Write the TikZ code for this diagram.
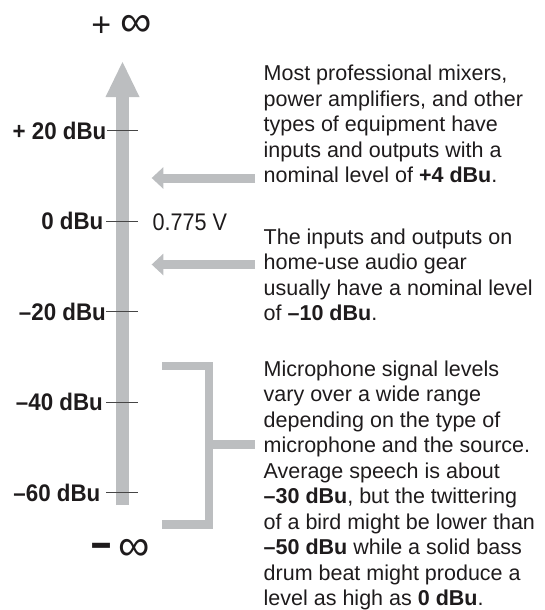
\documentclass[tikz,border=0pt]{standalone}
\usepackage{fontspec}
\usepackage{graphicx}
\usetikzlibrary{arrows.meta}
\setmainfont{Liberation Sans}
\newfontfamily\condfont[FakeStretch=0.93]{Liberation Sans}
\newfontfamily\voltfont[FakeStretch=0.9]{Liberation Sans}
\definecolor{bargray}{RGB}{188,190,192}
\definecolor{tickgray}{RGB}{70,70,70}
\definecolor{txt}{RGB}{30,27,28}
\newcommand\notefont{\fontsize{21.5}{25.5}\selectfont}
\begin{document}
\begin{tikzpicture}[x=1pt,y=-1pt,
  bar/.style={draw=bargray, line width=8.5pt},
  harrow/.style={draw=bargray, line width=9pt, -{Triangle[length=11.6pt,width=21.6pt,line width=0pt]}},
  tickline/.style={draw=tickgray, line width=1pt},
  lvl/.style={anchor=east, inner sep=0pt, text=txt, font=\condfont\bfseries\fontsize{24}{24}\selectfont},
  note/.style={anchor=base west, inner sep=0pt, text=txt},
  inf/.style={inner sep=0pt, text=txt},
]
\useasboundingbox (0,0) rectangle (544,610);

% main axis arrow
\coordinate (axbot) at (122.5,505);
\coordinate (axtop) at (122.5,62);
\draw[draw=bargray, line width=13pt, -{Triangle[length=35pt,width=34pt,line width=0pt]}] (axbot) -- (axtop);

% infinity labels
\node[inf, anchor=base] (pinf) at (121.5,37) {{\fontsize{34}{34}\selectfont +}\hspace{9pt}{\fontsize{44}{44}\selectfont ∞}};
\node[inf, anchor=base] (minf) at (120.5,560) {\raisebox{1pt}{\scalebox{1.2}[1.7]{\fontsize{30}{30}\selectfont\bfseries –}}\hspace{7pt}{\fontsize{44}{44}\selectfont ∞}};

% ticks and level labels
\coordinate (t20a) at (107,130.7);  \coordinate (t20b) at (138,130.7);
\coordinate (t0a)  at (106,221);    \coordinate (t0b)  at (138,221);
\coordinate (tm20a) at (106,311.7); \coordinate (tm20b) at (138,311.7);
\coordinate (tm40a) at (106,402);   \coordinate (tm40b) at (138,402);
\coordinate (tm60a) at (106,492.7); \coordinate (tm60b) at (138,492.7);
\draw[tickline] (t20a) -- (t20b);
\draw[tickline] (t0a) -- (t0b);
\draw[tickline] (tm20a) -- (tm20b);
\draw[tickline] (tm40a) -- (tm40b);
\draw[tickline] (tm60a) -- (tm60b);

\node[lvl] (l20) at (106.5,130.7) {+ 20 dBu};
\node[lvl] (l0) at (103.5,221) {0 dBu};
\node[lvl] (lm20) at (106,311.7) {–20 dBu};
\node[lvl] (lm40) at (103,402) {–40 dBu};
\node[lvl] (lm60) at (100.5,492.7) {–60 dBu};

\node[anchor=base west, inner sep=0pt, text=txt, font=\voltfont\fontsize{24}{24}\selectfont] (volt) at (152.5,230) {0.775 V};

% horizontal arrows
\coordinate (a1s) at (255,178);   \coordinate (a1e) at (151.7,178);
\coordinate (a2s) at (255,264.5); \coordinate (a2e) at (151.7,264.5);
\draw[harrow] (a1s) -- (a1e);
\draw[harrow] (a2s) -- (a2e);

% bracket
\coordinate (bt) at (162,366);
\coordinate (btr) at (209,366);
\coordinate (bbr) at (209,524.5);
\coordinate (bb) at (162,524.5);
\coordinate (bm) at (209,444.5);
\coordinate (bme) at (255,444.5);
\draw[bar] (bt) -- (btr) -- (bbr) -- (bb);
\draw[bar] (bm) -- (bme);

% notes
\node[note] (n1) at (263.5,81) {\parbox[t]{280pt}{\notefont
Most professional mixers,\\
power amplifiers, and other\\
types of equipment have\\
inputs and outputs with a\\
nominal level of \textbf{+4 dBu}.}};

\node[note] (n2) at (263.5,244) {\parbox[t]{280pt}{\notefont
The inputs and outputs on\\
home-use audio gear\\
usually have a nominal level\\
of \textbf{–10 dBu}.}};

\node[note] (n3) at (263.5,376) {\parbox[t]{280pt}{\notefont
Microphone signal levels\\
vary over a wide range\\
depending on the type of\\
microphone and the source.\\
Average speech is about\\
\textbf{–30 dBu}, but the twittering\\
of a bird might be lower than\\
\textbf{–50 dBu} while a solid bass\\
drum beat might produce a\\
level as high as \textbf{0 dBu}.}};
\end{tikzpicture}
\end{document}
